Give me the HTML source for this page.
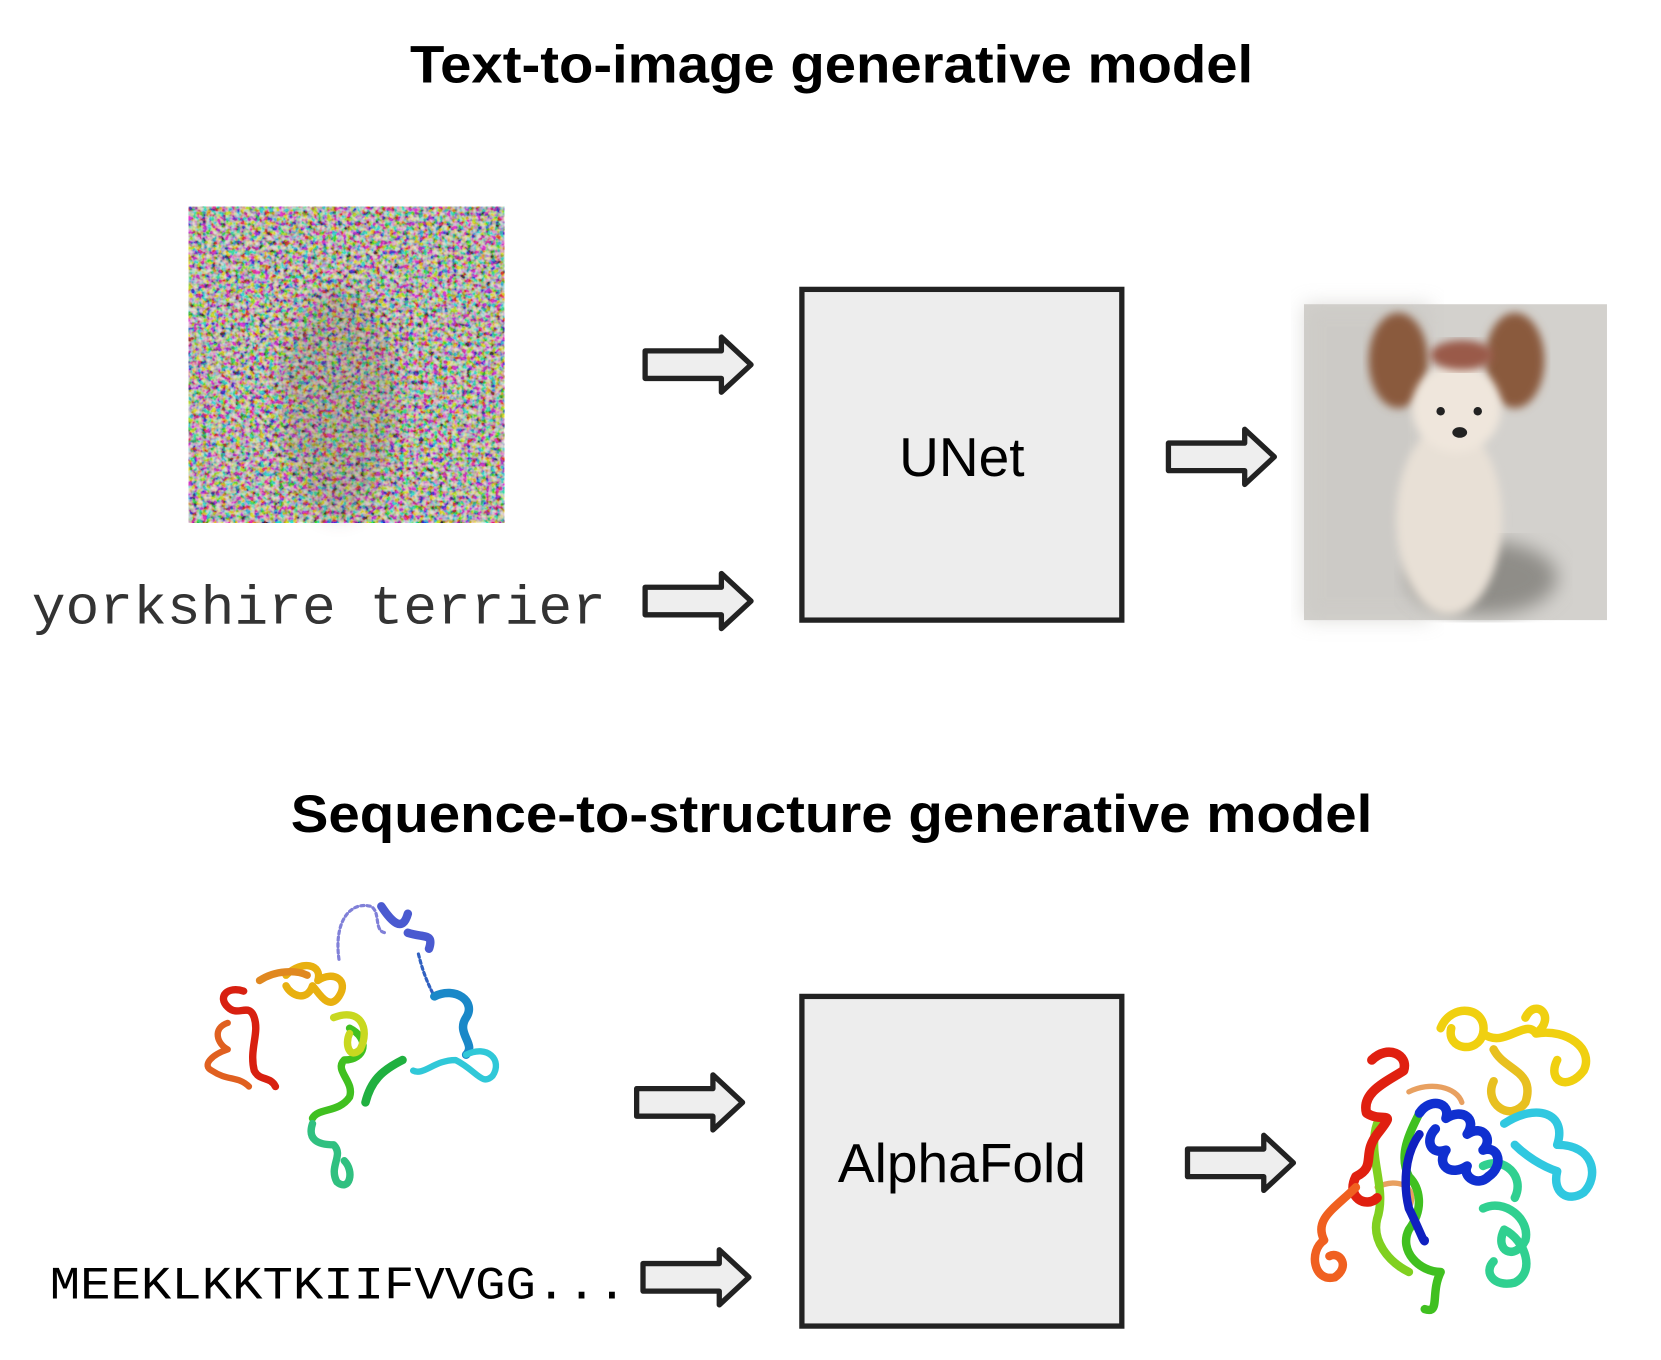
<!DOCTYPE html>
<html><head><meta charset="utf-8"><style>
html,body{margin:0;padding:0;background:#fff;}
svg{display:block;}
</style></head><body>
<svg width="1661" height="1360" viewBox="0 0 1568 1283" preserveAspectRatio="none" xmlns="http://www.w3.org/2000/svg">
<defs>
<filter id="noise" x="0" y="0" width="100%" height="100%">
<feTurbulence type="fractalNoise" baseFrequency="0.22" numOctaves="2" seed="3" result="t"/>
<feColorMatrix in="t" type="matrix" values="3 0 0 0 -1  0 3 0 0 -1  0 0 3 0 -1  0 0 0 0 1"/>
</filter>
<filter id="blur4"><feGaussianBlur stdDeviation="4"/></filter>
<filter id="blur8"><feGaussianBlur stdDeviation="9"/></filter>
<g id="arrow">
<path d="M0,-13 L72,-13 L72,-26 L100,0 L72,26 L72,13 L0,13 Z" fill="#eeeeee" stroke="#222" stroke-width="5" stroke-linejoin="round"/>
</g>
</defs>
<rect width="1568" height="1283" fill="#fff"/>

<text x="785" y="78" text-anchor="middle" font-family="Liberation Sans, sans-serif" font-weight="bold" font-size="50" textLength="796" lengthAdjust="spacingAndGlyphs" fill="#000">Text-to-image generative model</text>

<rect x="178" y="195" width="298" height="298" filter="url(#noise)"/>
<rect x="178" y="195" width="298" height="298" fill="#a89a8a" opacity="0.38"/>
<ellipse cx="320" cy="380" rx="55" ry="110" fill="#6a5540" opacity="0.2" filter="url(#blur8)"/>

<text x="30" y="588" font-family="Liberation Mono, monospace" font-size="52" textLength="542" lengthAdjust="spacingAndGlyphs" fill="#333">yorkshire terrier</text>

<use href="#arrow" x="609" y="344"/>
<use href="#arrow" x="609" y="567"/>
<use href="#arrow" x="1103" y="431"/>

<rect x="757" y="273" width="302" height="312" fill="#ededed" stroke="#222" stroke-width="5"/>
<text x="908" y="449" text-anchor="middle" font-family="Liberation Sans, sans-serif" font-size="52" fill="#000">UNet</text>

<rect x="1231" y="287" width="286" height="298" fill="#d3d1cd"/>
<rect x="1231" y="287" width="120" height="298" fill="#c9c7c3" opacity="0.6" filter="url(#blur8)"/>
<ellipse cx="1400" cy="545" rx="70" ry="35" fill="#8f8d88" filter="url(#blur8)"/>
<ellipse cx="1368" cy="490" rx="50" ry="90" fill="#e8e0d6" filter="url(#blur4)"/>
<ellipse cx="1320" cy="340" rx="28" ry="45" fill="#8a5a3e" filter="url(#blur4)"/>
<ellipse cx="1430" cy="340" rx="28" ry="45" fill="#8a5a3e" filter="url(#blur4)"/>
<ellipse cx="1375" cy="385" rx="42" ry="42" fill="#efe6dc" filter="url(#blur4)"/>
<ellipse cx="1380" cy="335" rx="30" ry="14" fill="#9a5a4a" filter="url(#blur4)"/>
<circle cx="1360" cy="388" r="4" fill="#222"/>
<circle cx="1395" cy="388" r="4" fill="#222"/>
<ellipse cx="1378" cy="408" rx="7" ry="5" fill="#222"/>

<text x="785" y="785" text-anchor="middle" font-family="Liberation Sans, sans-serif" font-weight="bold" font-size="50" textLength="1021" lengthAdjust="spacingAndGlyphs" fill="#000">Sequence-to-structure generative model</text>

<g fill="none" stroke-linecap="round" stroke-linejoin="round">
<path d="M320,905 C315,870 330,850 350,855 C360,860 352,880 365,880" stroke="#8080d8" stroke-width="3" stroke-dasharray="3,3"/>
<path d="M360,855 C370,870 380,880 385,862 M385,880 C400,885 410,880 405,895" stroke="#4a5ad0" stroke-width="8"/>
<path d="M395,900 C400,920 405,930 410,940" stroke="#3060c0" stroke-width="3" stroke-dasharray="3,3"/>
<path d="M410,940 C430,930 450,945 440,960 C430,975 450,985 440,995" stroke="#1a88c8" stroke-width="8"/>
<path d="M440,995 C460,985 475,1000 465,1015 C455,1025 450,1010 430,1000 C410,1000 400,1015 390,1010" stroke="#30c8d8" stroke-width="6"/>
<path d="M380,1000 C360,1010 350,1020 345,1040" stroke="#20b040" stroke-width="8"/>
<path d="M330,970 C350,980 345,1000 325,1000 C315,1010 335,1020 330,1035 C320,1050 300,1045 295,1055" stroke="#40c020" stroke-width="7"/>
<path d="M295,1060 C290,1075 300,1080 315,1080 C325,1090 310,1100 318,1115 C330,1125 335,1105 325,1095" stroke="#30c080" stroke-width="7"/>
<path d="M315,960 C340,950 350,970 340,990 C330,1000 325,985 330,975" stroke="#c8d820" stroke-width="7"/>
<path d="M270,920 C285,905 305,910 300,925 C315,915 330,925 320,940 C310,955 300,935 295,930 C290,945 275,940 270,930" stroke="#e8b010" stroke-width="7"/>
<path d="M245,925 C260,915 280,915 290,920" stroke="#e08820" stroke-width="7"/>
<path d="M230,935 C215,930 205,940 215,950 C225,960 235,945 240,960 C245,975 235,990 240,1010 C245,1020 255,1015 260,1025" stroke="#d82010" stroke-width="7"/>
<path d="M215,965 C200,970 205,985 215,990 C200,995 190,1005 200,1010 C215,1020 225,1015 235,1025" stroke="#e06020" stroke-width="6"/>
</g>

<text x="47" y="1225" font-family="Liberation Mono, monospace" font-size="44" textLength="545" lengthAdjust="spacingAndGlyphs" fill="#000">MEEKLKKTKIIFVVGG...</text>

<use href="#arrow" x="601" y="1040"/>
<use href="#arrow" x="607" y="1205"/>
<use href="#arrow" x="1121" y="1097"/>

<rect x="757" y="940" width="302" height="311" fill="#ededed" stroke="#222" stroke-width="5"/>
<text x="908" y="1115" text-anchor="middle" font-family="Liberation Sans, sans-serif" font-size="52" fill="#000">AlphaFold</text>

<g fill="none" stroke-linecap="round" stroke-linejoin="round" stroke-width="8">
<path d="M1360,970 C1370,945 1405,950 1400,975 C1395,995 1365,990 1370,970 M1400,975 C1420,990 1440,960 1450,975 C1470,960 1450,940 1440,960 M1450,975 C1480,970 1505,990 1495,1010 C1480,1030 1460,1020 1470,1000" stroke="#f0d010"/>
<path d="M1410,990 C1420,1010 1450,1010 1440,1040 C1425,1060 1400,1040 1410,1020" stroke="#e8c020"/>
<path d="M1330,1030 C1350,1020 1375,1025 1380,1040 M1300,1120 C1320,1110 1340,1120 1330,1140" stroke="#e8a060" stroke-width="5"/>
<path d="M1420,1060 C1450,1040 1480,1050 1470,1080 C1505,1080 1510,1110 1495,1125 C1480,1135 1465,1125 1470,1105 C1455,1100 1440,1090 1430,1080" stroke="#30c8e0"/>
<path d="M1400,1100 C1420,1090 1440,1110 1430,1130 M1400,1140 C1420,1130 1445,1150 1440,1170 C1430,1190 1410,1180 1420,1160 C1440,1170 1450,1200 1430,1210 C1410,1215 1400,1200 1410,1190" stroke="#30d090"/>
<path d="M1340,1050 C1330,1070 1320,1090 1330,1110 C1340,1120 1345,1140 1330,1160 C1320,1180 1340,1200 1360,1200 C1350,1220 1360,1240 1345,1235" stroke="#40c020"/>
<path d="M1300,1060 C1290,1090 1310,1120 1300,1150 C1295,1170 1310,1190 1330,1200" stroke="#80d020"/>
<path d="M1340,1050 C1350,1035 1370,1040 1365,1055 C1380,1045 1395,1055 1385,1070 C1400,1060 1410,1075 1400,1085 C1415,1080 1420,1100 1405,1110 C1395,1120 1380,1110 1385,1100 C1370,1110 1355,1100 1365,1085 C1350,1090 1345,1075 1355,1065" stroke="#1030d0" stroke-width="9"/>
<path d="M1340,1070 C1325,1090 1325,1120 1330,1140 C1340,1160 1345,1175 1345,1170" stroke="#1020c0"/>
<path d="M1295,1000 C1310,985 1330,995 1325,1010 C1310,1020 1285,1030 1290,1050 C1305,1060 1320,1045 1300,1070 C1285,1090 1300,1100 1280,1110 C1270,1130 1290,1140 1300,1130" stroke="#e02010" stroke-width="9"/>
<path d="M1280,1120 C1260,1140 1240,1150 1250,1170 C1235,1180 1240,1210 1260,1205 C1275,1195 1265,1180 1255,1185" stroke="#f06020"/>
</g>
</svg>
</body></html>
